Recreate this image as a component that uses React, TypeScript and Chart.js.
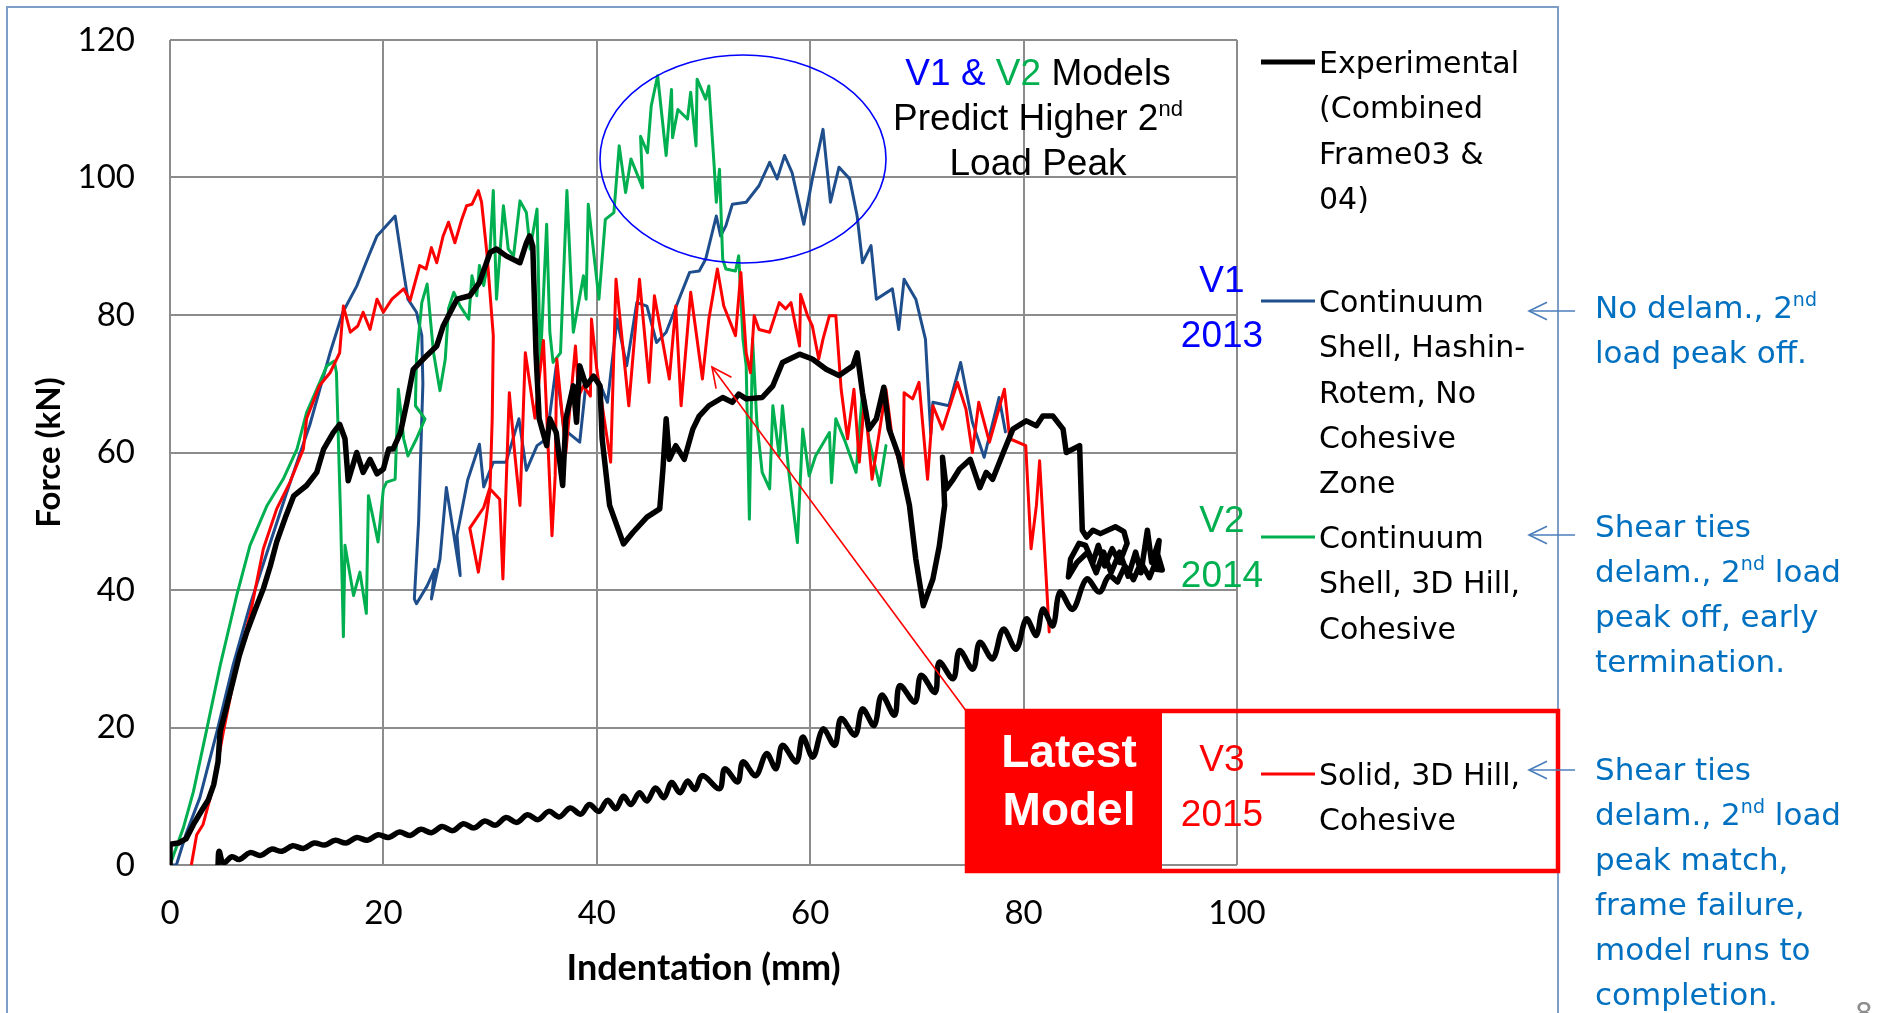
import React, { useEffect, useRef } from "react";
import { Chart, registerables } from "chart.js";
Chart.register(...registerables);

// ---------- data ----------
const xTickValues = [0, 20, 40, 60, 80, 100];
const yTickValues = [0, 20, 40, 60, 80, 100, 120];

const expLoadX = [0,0,0.8,1.5,2.2,3,3.6,4.1,4.5,4.7,5.3,5.9,6.5,7.2,8,8.75,9.4,10,10.8,11.6,12.8,13.75,14.4,15.3,15.9,16.4,16.7,17.5,18.1,18.75,19.4,20,20.5,20.9,21.6,22.2,22.8,24,25,25.6,26.9,28.1,29,30,30.6,31.5,32.8,33.4,33.7,34,34.3,34.6,35.3,35.6,36.2,36.8,37.1,37.8,38.1,38.4,39,39.7,40.3,40.5,41.2,42.5,43.4,44.7,45.9,46.2,46.5,46.8,47.4,48.2,49,49.6,50.5,51.8,52.7,53.3,54,55.5,56.5,57.4,59,60.2,61.5,62.7,64,64.4,64.9,65.5,66.2,66.9,67.4,68.3,69.3,69.9,70.6,71.5,72.1,72.6,72.4,72.75,73.4,74,75,75.9,76.5,77.1,78.1,79,80.25,81.2,81.8,82.75,83.7,84,85.25,85.5,85.9,86.5,87.2,88.6,89.4,89.7,89,88.3,87.6,87,86.5,85.8,85.2,84.4,84.2,85,86,86.8,87.5,88.2,89,89.8,90.5,91,91.6,92,92.7,92.4,93,92.6,91.8,91,90.3,89.5,88.8];
const expLoadY = [0,3,3.2,3.8,5.9,8,9.5,11.7,15,19.4,23,26.7,30.5,33.9,37.2,40.2,43.5,47,50.5,53.7,55.2,57.1,60.5,62.9,64.1,62,55.9,60,57.1,59,56.9,57.6,60.5,60.5,62.9,67.3,72.1,74,75.5,78.4,82.3,82.8,84.7,89.1,89.6,88.6,87.6,90.5,91.5,90,74.5,64.9,61,64.9,62.9,55.2,64.9,69.7,64.4,72.6,69.7,71.1,69.7,62,52.3,46.7,48.4,50.6,51.8,57.6,64.9,59,61,59,63.4,65.3,66.8,68,67.3,68.5,67.8,68,69.7,73.1,74.3,73.6,72.1,71.2,72.6,74.5,68.7,63.4,64.9,69.5,63.4,59.5,52.3,44.5,37.7,41.6,46.4,52.3,59.3,54.7,56.1,57.6,59,54.9,57.1,56.1,60,63.4,64.6,63.9,65.3,65.3,63.4,60,61,48.7,47.7,48.7,48.2,49.2,48.5,46.8,44,46,43.5,46.5,44,46.5,46.8,44.5,41.9,44,45.5,42.5,45.5,42.5,45.5,42,45.5,42.5,48.7,44,47.2,43,42.9,45,41.8,44,41.5,43.5,41.2];

const expUnloadX = [88.8,88,87.1,85.9,84.6,83.4,82.75,81.8,81.2,80.25,79.3,78.1,77.1,75.9,75.25,74,73.4,72.1,71.7,70.4,69.8,68.4,67.9,66.7,66,64.9,64.2,62.9,62.3,61.2,60.25,59.3,58.7,57.4,56.8,55.9,54.9,53.7,53.2,52,51.5,49.9,49.2,48.5,47.8,47,46.3,45.5,44.7,44,43.2,42.5,41.8,41,40.2,39.3,38.5,37.5,36.5,35.5,34.5,33.5,32.5,31.5,30.5,29.5,28.5,27.5,26.5,25.5,24.5,23.5,22.5,21.5,20.5,19.5,18.5,17.5,16.5,15.5,14.5,13.5,12.5,11.5,10.5,9.5,8.5,7.5,6.5,5.8,5,4.6,4.5];
const expUnloadY = [41.2,42,39.7,41.6,37.2,39.7,34.8,37.2,33.4,35.8,31.4,34.3,30,32.4,28.5,31.2,27.1,29.5,25.1,27.6,23.7,26.1,21.8,24.7,20.3,22.7,18.9,21.3,17.4,19.8,15.7,18.6,15,17.4,14,16.2,13,15,12.1,14,11.1,13,11,12.2,10.5,12,9.8,11.2,9.3,10.5,8.8,10,8.2,9.4,7.8,8.8,7.4,8.3,7,7.8,6.6,7.3,6.2,6.9,5.8,6.4,5.4,6,5,5.6,4.7,5.2,4.3,4.8,4,4.4,3.6,4,3.2,3.6,2.9,3.2,2.4,2.8,2,2.3,1.4,1.8,0.8,1.2,0.3,2,0];

const v1X = [0,0.6,1.5,2.8,4.4,5.9,7.5,9.1,10.9,13.1,15,16.2,17.5,18.6,19.4,20,21.1,21.9,22.3,23.1,23.6,23.7,23.3,22.9,23.1,24.1,24.8,24.5,25.3,25.9,26.5,27.2,26.9,27.9,29,29.4,30.3,31.5,32.7,33.4,34.4,35.3,36.2,36.9,38.4,39,40,41,41.9,42.8,43.75,44.7,45.6,46.5,47.7,48.7,49.6,50.2,51.2,51.6,52.1,52.7,54,55.2,56.2,56.9,57.6,58.3,59.4,60.2,61.2,61.9,62.7,63.7,64.4,64.9,65.7,66.2,67.7,68.3,68.8,69.9,70.8,71.3,71.5,73,74.1,75.2,76.3,77.7,78.3];
const v1Y = [0,0,4.5,9.8,19.4,29,37.8,45.5,54,64,74.5,80.4,84.2,88.5,91.5,92.5,94.4,86.2,82.3,80.4,77,70,50,38.7,38,40.6,43,38.7,44.5,54.9,49,42.1,48,56,61.2,55,58.6,58.6,64.9,57.4,61,62,72.6,63.4,61.5,70.2,71.1,67.3,79.4,72.6,81.8,81.3,76,77.5,82.3,86.2,86.4,88.1,94.4,91.5,93,96.1,96.4,98.8,102.2,99.8,103.2,100.7,93.2,99.8,107,96.4,101.5,99.8,94.4,87.6,90.1,82.3,83.8,77.9,85.2,82.3,76.5,62.7,67.3,66.8,73.1,64.4,59.3,68,63];

const v2X = [0,1.25,2.2,3.4,4.7,6.25,7.5,9.1,10.6,11.9,12.8,13.75,14.7,15.4,15.6,16.0,16.25,16.4,17.2,17.8,18.4,18.6,19.5,20,20.3,21.1,21.4,21.9,22.3,23.1,23.9,23.0,23.1,23.6,24.1,24.7,25.3,25.8,26.1,26.6,27.2,28,28.3,28.75,29,29.4,30,30.3,30.6,31.25,31.7,32.2,32.8,33.4,33.75,34.4,34.7,35.3,35.6,35.9,36.6,37.2,37.8,38.75,39,39.2,40.2,40.8,41.6,42.1,42.7,43.2,44.3,44.1,44.75,45.1,45.7,46.5,47,47.1,47.6,48.5,48.8,49.3,49.4,50.2,50.5,51,51.2,51.5,51.8,52.1,53,53.3,53.7,54,54.3,54.6,55,55.5,56.2,56.5,57.1,57.4,58,58.8,59.3,59.9,60.5,61.8,62,62.4,63.3,64.3,64.9,65.5,66.5,67.1];
const v2Y = [0,5.4,10.7,19.4,29,39.2,46.5,52.3,56.1,60.5,65.8,69.2,72.6,73.3,71.6,50,33.2,46.5,39.2,42.6,36.6,53.7,47,54.7,55.7,56.1,69.2,62,59.5,62,64.9,66.8,73.6,81.8,84.5,74.5,69,73.6,80.9,83.3,81.3,79.4,85.7,82.8,87.2,84.3,89.6,98.1,82.3,95.9,89.6,88.6,96.6,94.9,89.6,95.4,72.6,93.2,77.5,73.1,74.5,98.1,77.5,85.7,82.3,96.1,82.3,93.9,94.9,104.6,97.8,102.7,98.5,106,103.6,110.4,114.8,103.2,112.8,105.8,109.9,108.5,112.4,104.6,114.3,111.4,113.3,101.7,96.4,101.2,88.1,86.7,86.4,88.6,76.5,72.6,50.3,76.5,64.4,57.1,54.7,66.8,59.5,66.8,57.1,46.9,63.4,56.6,59.5,62.9,55.6,64.9,61.5,57.1,68.7,62,55.2,61];

const v3X = [2,2.5,3.1,4.1,5,6.25,7.5,8.75,10,11.25,12.5,12.8,14,15,15.9,16.25,16.9,17.6,18.1,18.75,19.4,20,20.8,21.9,22.5,23.4,24,24.5,25,25.6,26.1,26.7,27.3,27.8,28.3,28.9,29.2,29.7,30.3,30.2,30,29.4,28.1,28.9,29.6,30,30.9,31.2,31.8,32.3,32.8,33.3,34.2,35,35.8,36.1,36.25,37.1,38,38.3,38.75,39.4,39.5,40,41.3,41.8,43,44,44.9,45.4,46.8,47.4,47.9,48.8,49.9,50.5,51.3,51.9,53,53.5,54,54.4,54.75,55.2,56.2,57.1,57.7,58.2,59,59.1,59.75,60.2,60.8,61.2,61.8,62.4,62.9,63.5,64.1,64.6,65.1,65.8,67.1,67.7,68.7,68.8,69.6,70.2,71,71.5,72.4,73.8,74.6,75.2,75.8,76.8,78.2,78.7,80.2,80.7,81.2,81.5,82.4];
const v3Y = [0,4.4,5.9,11.7,19.4,29,36.3,46,51.8,55.7,60.5,64.9,69.7,71.6,74.5,81.3,77.5,78.4,80.4,77.9,82.3,80.4,82.3,83.8,82.1,87.2,86.7,89.8,87.6,91.5,93.5,90.5,93.7,95.9,96.1,98.1,96.4,89,77,65,55,52,49,42.6,50,54.7,53.2,41.6,68.7,60,52.3,74.5,65,76.3,47.9,56.6,73.6,60,75.5,68.2,69.7,68.2,79.4,72.1,58.6,85.2,66.8,85.2,70.2,82.8,70.7,81.3,66.8,83.3,70.7,79.4,86.7,81.3,77,86.2,74.5,71.6,79.9,77.9,77.5,81.8,80.9,81.8,75.5,83,79.9,78.4,73.6,76.5,79.9,79.9,69.2,62,69.2,58.6,67.8,56.1,69.2,62,56.6,68.7,67.8,70.2,56.1,66.8,63.4,70.2,66.3,60,67.3,61.5,69.2,62,61,46,52.3,58.8,33.9];

// ---------- layout constants ----------
const W = 1879;
const H = 1013;
const AR = '"Liberation Sans", Arial, sans-serif';
const DV = '"DejaVu Sans", Verdana, sans-serif';
const BLUE_NOTE = "#0070C0";

function pts(xs: number[], ys: number[]) {
  return xs.map((x, i) => ({ x, y: ys[i] }));
}

type Run = { t: string; c?: string; sup?: boolean };

function drawRuns(ctx: CanvasRenderingContext2D, runs: Run[], x: number, y: number, size: number, family: string, weight: string, align: string, color: string) {
  const supSize = Math.round(size * 0.6);
  const ws = runs.map((r) => {
    ctx.font = `${weight} ${r.sup ? supSize : size}px ${family}`;
    return ctx.measureText(r.t).width;
  });
  const total = ws.reduce((a, b) => a + b, 0);
  let cx = align === "center" ? x - total / 2 : align === "right" ? x - total : x;
  const base = y + size * 0.36;
  ctx.textAlign = "left";
  ctx.textBaseline = "alphabetic";
  runs.forEach((r, i) => {
    ctx.font = `${weight} ${r.sup ? supSize : size}px ${family}`;
    ctx.fillStyle = r.c || color;
    ctx.fillText(r.t, cx, r.sup ? base - size * 0.38 : base);
    cx += ws[i];
  });
}

function arrow(ctx: CanvasRenderingContext2D, x1: number, y1: number, x2: number, y2: number, color: string, lw: number, head: number) {
  ctx.strokeStyle = color;
  ctx.lineWidth = lw;
  ctx.beginPath();
  ctx.moveTo(x1, y1);
  ctx.lineTo(x2, y2);
  ctx.stroke();
  const a = Math.atan2(y1 - y2, x1 - x2);
  const s = 0.45;
  ctx.beginPath();
  ctx.moveTo(x2 + head * Math.cos(a + s), y2 + head * Math.sin(a + s));
  ctx.lineTo(x2, y2);
  ctx.lineTo(x2 + head * Math.cos(a - s), y2 + head * Math.sin(a - s));
  ctx.stroke();
}

const annotPlugin = {
  id: "annot",
  afterDraw(chart: any) {
    const ctx: CanvasRenderingContext2D = chart.ctx;
    const xs = chart.scales.x;
    const ys = chart.scales.y;
    ctx.save();

    // outer slide frame
    ctx.strokeStyle = "#7F9DC6";
    ctx.lineWidth = 2;
    ctx.beginPath();
    ctx.moveTo(7, H + 5);
    ctx.lineTo(7, 7);
    ctx.lineTo(1558, 7);
    ctx.lineTo(1558, H + 5);
    ctx.stroke();

    // ellipse highlighting 2nd peak
    ctx.strokeStyle = "#0000FF";
    ctx.lineWidth = 1.6;
    ctx.beginPath();
    ctx.ellipse(743, 159, 143, 104, 0, 0, Math.PI * 2);
    ctx.stroke();

    // headline
    drawRuns(ctx, [{ t: "V1 & ", c: "#0000FF" }, { t: "V2", c: "#00B050" }, { t: " Models" }], 1038, 72, 37, AR, "normal", "center", "#000");
    drawRuns(ctx, [{ t: "Predict Higher 2" }, { t: "nd", sup: true }], 1038, 117, 37, AR, "normal", "center", "#000");
    drawRuns(ctx, [{ t: "Load Peak" }], 1038, 162, 37, AR, "normal", "center", "#000");

    // red arrow to V3 curve
    arrow(ctx, 967, 712, 712, 367, "#FF0000", 1.6, 22);

    // "Latest Model" box
    ctx.fillStyle = "#FFFFFF";
    ctx.fillRect(1162, 713, 394, 149);
    ctx.strokeStyle = "#8C8C8C";
    ctx.lineWidth = 2;
    const gx = xs.getPixelForValue(100);
    ctx.beginPath();
    ctx.moveTo(gx, 711);
    ctx.lineTo(gx, ys.getPixelForValue(0));
    ctx.stroke();
    ctx.fillStyle = "#FF0000";
    ctx.fillRect(967, 711, 195, 159);
    ctx.strokeStyle = "#FF0000";
    ctx.lineWidth = 4.5;
    ctx.strokeRect(967, 711, 591, 160);
    drawRuns(ctx, [{ t: "Latest" }], 1069, 750, 46, AR, "bold", "center", "#FFFFFF");
    drawRuns(ctx, [{ t: "Model" }], 1069, 808, 46, AR, "bold", "center", "#FFFFFF");

    // version labels
    const vl: [string, string, number, number][] = [
      ["V1", "2013", 279, 0],
      ["V2", "2014", 519, 1],
      ["V3", "2015", 758, 2],
    ];
    const vc = ["#0000FF", "#00B050", "#FF0000"];
    vl.forEach(([a, b, y, i]) => {
      drawRuns(ctx, [{ t: a }], 1222, y, 37, AR, "normal", "center", vc[i]);
      drawRuns(ctx, [{ t: b }], 1222, y + 55, 37, AR, "normal", "center", vc[i]);
    });

    // legend
    const legend: [string, number, number, string[]][] = [
      ["#000000", 5, 62, ["Experimental", "(Combined", "Frame03 &", "04)"]],
      ["#1F4E8C", 3, 301, ["Continuum", "Shell, Hashin-", "Rotem, No", "Cohesive", "Zone"]],
      ["#00B050", 3, 537, ["Continuum", "Shell, 3D Hill,", "Cohesive"]],
      ["#FF0000", 3, 774, ["Solid, 3D Hill,", "Cohesive"]],
    ];
    legend.forEach(([col, lw, y, lines]) => {
      ctx.strokeStyle = col;
      ctx.lineWidth = lw;
      ctx.beginPath();
      ctx.moveTo(1261, y);
      ctx.lineTo(1315, y);
      ctx.stroke();
      lines.forEach((ln, k) => {
        drawRuns(ctx, [{ t: ln }], 1319, y + k * 45.4, 30, DV, "normal", "left", "#000");
      });
    });

    // notes on the right
    const notes: [number, Run[][]][] = [
      [307, [[{ t: "No delam., 2" }, { t: "nd", sup: true }], [{ t: "load peak off." }]]],
      [526, [[{ t: "Shear ties" }], [{ t: "delam., 2" }, { t: "nd", sup: true }, { t: " load" }], [{ t: "peak off, early" }], [{ t: "termination." }]]],
      [769, [[{ t: "Shear ties" }], [{ t: "delam., 2" }, { t: "nd", sup: true }, { t: " load" }], [{ t: "peak match," }], [{ t: "frame failure," }], [{ t: "model runs to" }], [{ t: "completion." }]]],
    ];
    notes.forEach(([y, lines]) => {
      lines.forEach((runs, k) => {
        drawRuns(ctx, runs, 1595, y + k * 44.9, 31, DV, "normal", "left", BLUE_NOTE);
      });
    });
    [311, 535, 770].forEach((y) => arrow(ctx, 1575, y, 1529, y, "#4A7EBB", 1.6, 20));

    // page number (cut off at bottom)
    ctx.font = `28px ${DV}`;
    ctx.fillStyle = "#8C8C8C";
    ctx.textAlign = "left";
    ctx.textBaseline = "top";
    ctx.fillText("8", 1855, 1002);

    ctx.restore();
  },
};

export default function App() {
  const ref = useRef<HTMLCanvasElement | null>(null);
  useEffect(() => {
    document.body.style.margin = "0";
    document.body.style.overflow = "hidden";
    const canvas = ref.current;
    if (!canvas) return;
    const line = (xs: number[], ys: number[], color: string, width: number, order: number, tension = 0) => ({
      data: pts(xs, ys),
      borderColor: color,
      backgroundColor: color,
      borderWidth: width,
      showLine: true,
      pointRadius: 0,
      tension,
      borderJoinStyle: "round",
      borderCapStyle: "round",
      order,
    });
    const chart = new Chart(canvas, {
      type: "scatter",
      data: {
        datasets: [
          line(expLoadX, expLoadY, "#000000", 5.5, 0),
          line(expUnloadX, expUnloadY, "#000000", 5.5, 0, 0.35),
          line(v3X, v3Y, "#FF0000", 3, 1),
          line(v2X, v2Y, "#00B050", 3, 2),
          line(v1X, v1Y, "#1F4E8C", 3, 3),
        ] as any,
      },
      options: {
        responsive: false,
        animation: false,
        events: [],
        devicePixelRatio: 1,
        layout: { padding: { left: 0, top: 40, right: W - 1237, bottom: 0 } },
        plugins: { legend: { display: false }, tooltip: { enabled: false } },
        scales: {
          x: {
            type: "linear",
            min: 0,
            max: 100,
            afterBuildTicks: (s: any) => { s.ticks = xTickValues.map((v) => ({ value: v })); },
            ticks: { padding: 29, color: "#000", font: { family: "Lato", size: 33 } },
            grid: { color: "#8C8C8C", lineWidth: 2, drawTicks: false },
            border: { display: false },
            title: { display: true, text: "Indentation (mm)", color: "#000", font: { family: "Lato", size: 36, weight: "bold" }, padding: { top: 0, bottom: 23 } },
            afterFit: (s: any) => { s.height = H - 865; s.paddingLeft = 0; s.paddingRight = 0; },
          },
          y: {
            type: "linear",
            min: 0,
            max: 120,
            afterBuildTicks: (s: any) => { s.ticks = yTickValues.map((v) => ({ value: v })); },
            ticks: { padding: 35, color: "#000", font: { family: "Lato", size: 33 } },
            grid: { color: "#8C8C8C", lineWidth: 2, drawTicks: false },
            border: { display: false },
            title: { display: true, text: "Force (kN)", color: "#000", font: { family: "Lato", size: 33, weight: "bold" }, padding: { top: 30, bottom: 0 } },
            afterFit: (s: any) => { s.width = 170; s.paddingTop = 0; s.paddingBottom = 0; },
          },
        },
      } as any,
      plugins: [annotPlugin as any],
    });
    return () => chart.destroy();
  }, []);
  return <canvas ref={ref} width={W} height={H} style={{ display: "block" }} />;
}
